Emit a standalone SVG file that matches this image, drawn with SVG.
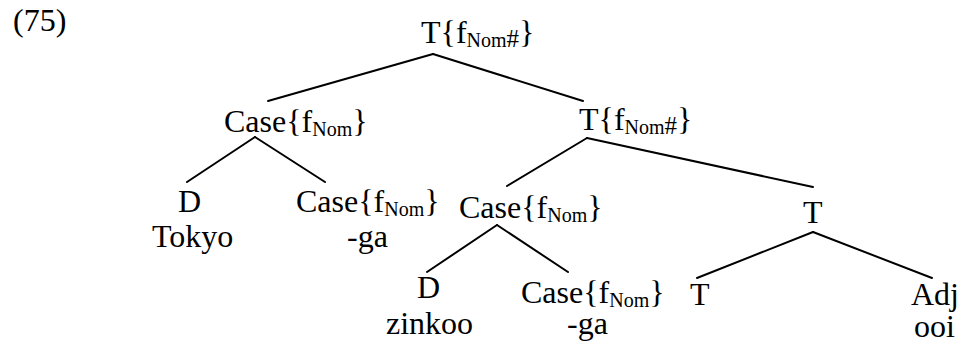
<svg xmlns="http://www.w3.org/2000/svg" width="961" height="344" viewBox="0 0 961 344">
<style>
text{font-family:"Liberation Serif","Times New Roman",serif;font-size:32px;fill:#000}
.sub{font-size:20px}
.hash{font-size:25px}
#edges line{stroke:#000;stroke-width:2;stroke-linecap:round}
</style>
<rect width="961" height="344" fill="#fff"/>
<g id="edges">
<line x1="433" y1="54" x2="268" y2="101"/>
<line x1="433" y1="54" x2="583" y2="101"/>
<line x1="255" y1="137" x2="187" y2="182"/>
<line x1="255" y1="137" x2="325" y2="182"/>
<line x1="587" y1="138" x2="507" y2="186"/>
<line x1="587" y1="138" x2="813" y2="187"/>
<line x1="497" y1="225" x2="427" y2="272"/>
<line x1="497" y1="225" x2="568" y2="272"/>
<line x1="813" y1="232" x2="697" y2="278"/>
<line x1="813" y1="232" x2="932" y2="278"/>
</g>
<g id="label75"><text x="13" y="31">(75)</text></g>
<g id="root"><text x="421" y="43">T{f<tspan class="sub" dy="4">Nom</tspan><tspan class="hash">#</tspan><tspan dy="-4">}</tspan></text></g>
<g id="caseL"><text x="224" y="132">Case{f<tspan class="sub" dy="4">Nom</tspan><tspan dy="-4">}</tspan></text></g>
<g id="tMid"><text x="579" y="130">T{f<tspan class="sub" dy="4">Nom</tspan><tspan class="hash">#</tspan><tspan dy="-4">}</tspan></text></g>
<g id="dL"><text x="178" y="212">D</text><text x="152" y="247">Tokyo</text></g>
<g id="caseL2"><text x="296" y="212">Case{f<tspan class="sub" dy="4">Nom</tspan><tspan dy="-4">}</tspan></text><text x="347" y="247">-ga</text></g>
<g id="caseM"><text x="459" y="218">Case{f<tspan class="sub" dy="4">Nom</tspan><tspan dy="-4">}</tspan></text></g>
<g id="tR"><text x="803" y="223">T</text></g>
<g id="dM"><text x="417" y="298">D</text><text x="386" y="334">zinkoo</text></g>
<g id="caseM2"><text x="521" y="303">Case{f<tspan class="sub" dy="4">Nom</tspan><tspan dy="-4">}</tspan></text><text x="567" y="334">-ga</text></g>
<g id="tLeaf"><text x="690" y="305">T</text></g>
<g id="adj"><text x="911" y="305">Adj</text><text x="914" y="337">ooi</text></g>
</svg>
